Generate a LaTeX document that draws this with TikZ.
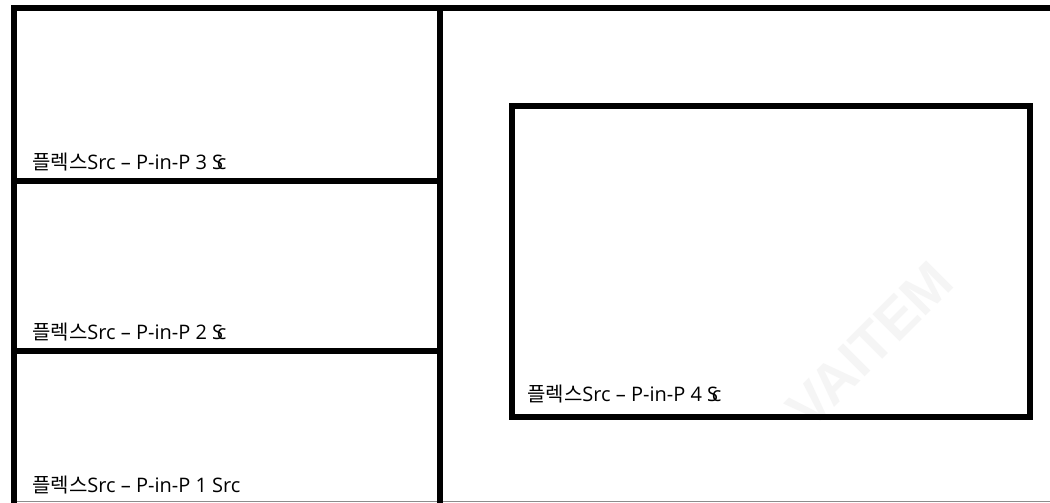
\documentclass[tikz,border=0pt]{standalone}
\usepackage{fontspec}
\setmainfont{Open Sans}
\newfontfamily\kr{Noto Sans CJK KR}
\newfontfamily\wmfont{Liberation Sans}
\tikzset{
  frame/.style={line width=6pt, line cap=rect},
  lbl/.style={anchor=base west, inner sep=0pt, font=\fontsize{20}{23}\selectfont},
}
\newcommand{\squeezedSc}{S\kern-0.32em c}
\newcommand{\krw}{{\kr\fontsize{20}{23}\selectfont 플렉스}}
\begin{document}
\begin{tikzpicture}[x=1pt,y=-1pt]
\useasboundingbox (0,0) rectangle (1050,503);
\fill[white] (0,0) rectangle (1050,503);
% watermark
\node[rotate=45, text=black!4, font=\wmfont\bfseries\fontsize{56}{56}\selectfont] (wm) at (870,345) {VAITEM};
% frame coordinates
\coordinate (tl) at (14,8);
\coordinate (tr) at (1050,8);
\coordinate (bl) at (14,503);
\coordinate (dt) at (440,8);
\coordinate (db) at (440,503);
\coordinate (h1l) at (14,180.5);
\coordinate (h1r) at (440,180.5);
\coordinate (h2l) at (14,350.5);
\coordinate (h2r) at (440,350.5);
\coordinate (bl2) at (14,501.5);
\coordinate (br2) at (1050,501.5);
% bottom thin line
\draw[line width=1pt, black!45] (bl2) -- (br2);
% thick lines
\draw[frame] (tl) -- (tr);
\draw[frame] (tl) -- (bl);
\draw[frame] (dt) -- (db);
\draw[frame] (h1l) -- (h1r);
\draw[frame] (h2l) -- (h2r);
% right rectangle
\node[draw, line width=6pt, minimum width=518pt, minimum height=311pt, inner sep=0pt, anchor=north west] (big) at (508.5,102.5) {};
% labels
\node[lbl] (l3) at (32,169) {\krw Src – P-in-P 3 \squeezedSc};
\node[lbl] (l2) at (32,339) {\krw Src – P-in-P 2 \squeezedSc};
\node[lbl] (l1) at (32,492) {\krw Src – P-in-P 1 Src};
\node[lbl] (l4) at (527,401) {\krw Src – P-in-P 4 \squeezedSc};
\end{tikzpicture}
\end{document}
